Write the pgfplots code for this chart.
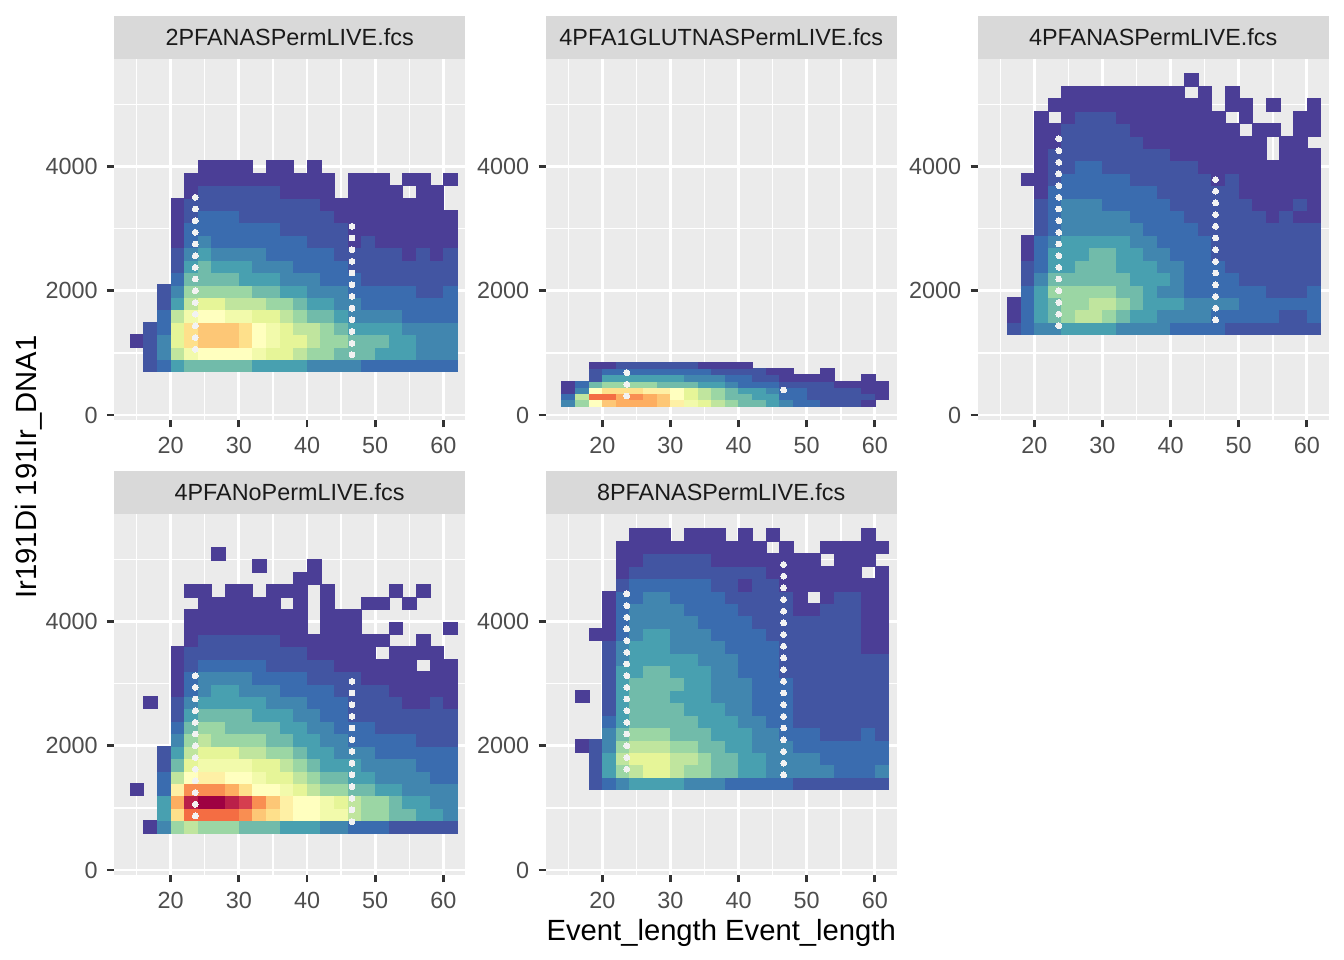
\documentclass[border=0pt]{standalone}
\usepackage{pgfplots}
\pgfplotsset{compat=1.18}
\usepackage{fontspec}
\setmainfont{Liberation Sans}
\definecolor{bg}{HTML}{EBEBEB}
\definecolor{stripc}{HTML}{D9D9D9}
\definecolor{tl}{HTML}{4D4D4D}
\definecolor{tk}{HTML}{333333}
\definecolor{st}{HTML}{1A1A1A}
\definecolor{hole}{HTML}{F2F2F2}
\tikzset{striptext/.style={font=\fontsize{8.8}{10}\selectfont, text=st}}
\pgfplotsset{
 panel/.style={
  scale only axis, width=131.5bp, height=135.3bp, anchor=south west,
  xmin=11.72, xmax=63.18, ymin=-81, ymax=5732,
  axis lines*=left, axis line style={draw=none},
  axis background/.style={fill=bg},
  xtick={20,30,40,50,60}, ytick={0,2000,4000},
  minor xtick={15,25,35,45,55}, minor ytick={1000,3000,5000},
  grid=both,
  major grid style={color=white, line width=1.07bp},
  minor grid style={color=white, line width=0.53bp},
  tick align=outside, major tick length=2.75bp, minor tick length=0pt,
  tick style={color=tk, line width=1.07bp},
  tick label style={font=\fontsize{8.8}{10}\selectfont, text=tl},
  /pgf/number format/assume math mode=true, /pgf/number format/1000 sep={},
  scaled ticks=false,
  colormap={spec}{rgb255=(75,62,150) rgb255=(58,108,175) rgb255=(72,160,176) rgb255=(155,214,164) rgb255=(230,245,152) rgb255=(255,255,191) rgb255=(254,224,139) rgb255=(253,174,97) rgb255=(244,109,67) rgb255=(213,62,79) rgb255=(158,1,66)},
  point meta min=0, point meta max=20,
 },
 cells/.style={scatter, only marks, mark=square*, point meta=explicit,
  scatter/use mapped color={draw=mapped color, fill=mapped color},
  mark size=2.56bp, mark options={yscale=#1, line width=0.1bp}},
 holes/.style={scatter=false, point meta=none, only marks, mark=*, color=hole, mark size=1.1bp, mark options={draw=hole, fill=hole, line width=0pt}},
}
\begin{document}
\begin{tikzpicture}
\path[use as bounding box] (0,0) rectangle (504bp,360bp);
% ---------------- panel 1
\begin{axis}[panel, name=p1, at={(42.86bp,202.5bp)}]
\addplot[cells=0.911] coordinates {
(17,800)[1] (19,800)[2] (21,800)[4] (23,800)[5] (25,800)[5] (27,800)[5] (29,800)[5] (31,800)[5] (33,800)[4] (35,800)[4] (37,800)[4] (39,800)[4] (41,800)[3] (43,800)[3] (45,800)[3] (47,800)[3] (49,800)[2] (51,800)[2] (53,800)[2] (55,800)[2] (57,800)[2] (59,800)[2] (61,800)[2]
(17,1000)[1] (19,1000)[3] (21,1000)[7] (23,1000)[9] (25,1000)[10] (27,1000)[10] (29,1000)[10] (31,1000)[10] (33,1000)[9] (35,1000)[8] (37,1000)[8] (39,1000)[7] (41,1000)[6] (43,1000)[6] (45,1000)[5] (47,1000)[5] (49,1000)[5] (51,1000)[4] (53,1000)[4] (55,1000)[4] (57,1000)[3] (59,1000)[3] (61,1000)[3]
(15,1200)[0] (17,1200)[1] (19,1200)[3] (21,1200)[8] (23,1200)[12] (25,1200)[13] (27,1200)[13] (29,1200)[13] (31,1200)[12] (33,1200)[10] (35,1200)[9] (37,1200)[8] (39,1200)[8] (41,1200)[7] (43,1200)[6] (45,1200)[6] (47,1200)[5] (49,1200)[5] (51,1200)[5] (53,1200)[4] (55,1200)[4] (57,1200)[3] (59,1200)[3] (61,1200)[3]
(17,1400)[1] (19,1400)[2] (21,1400)[8] (23,1400)[12] (25,1400)[13] (27,1400)[13] (29,1400)[13] (31,1400)[12] (33,1400)[10] (35,1400)[9] (37,1400)[8] (39,1400)[7] (41,1400)[7] (43,1400)[6] (45,1400)[5] (47,1400)[4] (49,1400)[4] (51,1400)[4] (53,1400)[4] (55,1400)[3] (57,1400)[3] (59,1400)[3] (61,1400)[3]
(19,1600)[2] (21,1600)[7] (23,1600)[9] (25,1600)[10] (27,1600)[10] (29,1600)[9] (31,1600)[9] (33,1600)[8] (35,1600)[8] (37,1600)[7] (39,1600)[6] (41,1600)[5] (43,1600)[5] (45,1600)[4] (47,1600)[3] (49,1600)[3] (51,1600)[3] (53,1600)[3] (55,1600)[2] (57,1600)[2] (59,1600)[2] (61,1600)[2]
(19,1800)[1] (21,1800)[4] (23,1800)[7] (25,1800)[8] (27,1800)[8] (29,1800)[7] (31,1800)[7] (33,1800)[7] (35,1800)[6] (37,1800)[6] (39,1800)[5] (41,1800)[4] (43,1800)[4] (45,1800)[3] (47,1800)[3] (49,1800)[2] (51,1800)[2] (53,1800)[2] (55,1800)[2] (57,1800)[2] (59,1800)[2] (61,1800)[2]
(19,2000)[1] (21,2000)[3] (23,2000)[6] (25,2000)[6] (27,2000)[6] (29,2000)[6] (31,2000)[6] (33,2000)[5] (35,2000)[5] (37,2000)[4] (39,2000)[4] (41,2000)[3] (43,2000)[3] (45,2000)[3] (47,2000)[2] (49,2000)[2] (51,2000)[2] (53,2000)[2] (55,2000)[2] (57,2000)[1] (59,2000)[1] (61,2000)[2]
(21,2200)[2] (23,2200)[5] (25,2200)[5] (27,2200)[5] (29,2200)[5] (31,2200)[4] (33,2200)[4] (35,2200)[4] (37,2200)[3] (39,2200)[3] (41,2200)[3] (43,2200)[2] (45,2200)[2] (47,2200)[2] (49,2200)[1] (51,2200)[1] (53,2200)[1] (55,2200)[1] (57,2200)[1] (59,2200)[1] (61,2200)[1]
(21,2400)[1] (23,2400)[4] (25,2400)[5] (27,2400)[4] (29,2400)[4] (31,2400)[4] (33,2400)[3] (35,2400)[3] (37,2400)[3] (39,2400)[2] (41,2400)[2] (43,2400)[2] (45,2400)[2] (47,2400)[1] (49,2400)[1] (51,2400)[1] (53,2400)[1] (55,2400)[1] (57,2400)[1] (59,2400)[1] (61,2400)[1]
(21,2600)[1] (23,2600)[3] (25,2600)[4] (27,2600)[3] (29,2600)[3] (31,2600)[3] (33,2600)[3] (35,2600)[2] (37,2600)[2] (39,2600)[2] (41,2600)[2] (43,2600)[2] (45,2600)[1] (47,2600)[1] (49,2600)[1] (51,2600)[1] (53,2600)[1] (55,2600)[0] (57,2600)[1] (59,2600)[0] (61,2600)[1]
(21,2800)[0] (23,2800)[2] (25,2800)[3] (27,2800)[2] (29,2800)[2] (31,2800)[2] (33,2800)[2] (35,2800)[2] (37,2800)[2] (39,2800)[2] (41,2800)[1] (43,2800)[1] (45,2800)[1] (47,2800)[0] (49,2800)[1] (51,2800)[0] (53,2800)[0] (55,2800)[0] (57,2800)[0] (59,2800)[0] (61,2800)[0]
(21,3000)[0] (23,3000)[2] (25,3000)[2] (27,3000)[2] (29,3000)[2] (31,3000)[2] (33,3000)[2] (35,3000)[2] (37,3000)[1] (39,3000)[1] (41,3000)[1] (43,3000)[1] (45,3000)[1] (47,3000)[0] (49,3000)[0] (51,3000)[0] (53,3000)[0] (55,3000)[0] (57,3000)[0] (59,3000)[0] (61,3000)[0]
(21,3200)[0] (23,3200)[1] (25,3200)[2] (27,3200)[2] (29,3200)[2] (31,3200)[1] (33,3200)[1] (35,3200)[1] (37,3200)[1] (39,3200)[1] (41,3200)[1] (43,3200)[1] (45,3200)[0] (47,3200)[0] (49,3200)[0] (51,3200)[0] (53,3200)[0] (55,3200)[0] (57,3200)[0] (59,3200)[0] (61,3200)[0]
(21,3400)[0] (23,3400)[1] (25,3400)[1] (27,3400)[1] (29,3400)[1] (31,3400)[1] (33,3400)[1] (35,3400)[1] (37,3400)[1] (39,3400)[1] (41,3400)[1] (43,3400)[0] (45,3400)[0] (47,3400)[0] (49,3400)[0] (51,3400)[0] (53,3400)[0] (55,3400)[0] (57,3400)[0] (59,3400)[0]
(23,3600)[0] (25,3600)[1] (27,3600)[1] (29,3600)[1] (31,3600)[1] (33,3600)[1] (35,3600)[1] (37,3600)[0] (39,3600)[0] (41,3600)[0] (43,3600)[0] (47,3600)[0] (49,3600)[0] (51,3600)[0] (53,3600)[0] (57,3600)[0] (59,3600)[0]
(23,3800)[0] (25,3800)[0] (27,3800)[0] (29,3800)[0] (31,3800)[0] (33,3800)[0] (35,3800)[0] (37,3800)[0] (39,3800)[0] (41,3800)[0] (43,3800)[0] (47,3800)[0] (49,3800)[0] (51,3800)[0] (55,3800)[0] (57,3800)[0] (61,3800)[0]
(25,4000)[0] (27,4000)[0] (29,4000)[0] (31,4000)[0] (35,4000)[0] (37,4000)[0] (41,4000)[0]
};
\addplot[holes] coordinates {
(23.6,1060) (23.6,1248) (23.6,1437) (23.6,1625) (23.6,1813) (23.6,2001) (23.6,2190) (23.6,2378) (23.6,2566) (23.6,2754) (23.6,2943) (23.6,3131) (23.6,3319) (23.6,3507)
(46.6,968) (46.6,1157) (46.6,1345) (46.6,1533) (46.6,1722) (46.6,1910) (46.6,2098) (46.6,2287) (46.6,2475) (46.6,2663) (46.6,2852) (46.6,3040)
};
\end{axis}
\fill[stripc] (p1.north west) rectangle ([yshift=16.24bp]p1.north east);
\node[striptext] at ([yshift=8.12bp]p1.north) {2PFANASPermLIVE.fcs};
% ---------------- panel 2
\begin{axis}[panel, name=p2, at={(204.7bp,202.5bp)}]
\addplot[cells=0.4555] coordinates {
(15,200)[3] (17,200)[6] (19,200)[10] (21,200)[13] (23,200)[14] (25,200)[14] (27,200)[14] (29,200)[13] (31,200)[11] (33,200)[9] (35,200)[8] (37,200)[7] (39,200)[6] (41,200)[5] (43,200)[5] (45,200)[4] (47,200)[3] (49,200)[2] (51,200)[2] (53,200)[1] (55,200)[1] (57,200)[1] (59,200)[0]
(15,300)[2] (17,300)[7] (19,300)[16] (21,300)[16] (23,300)[14] (25,300)[15] (27,300)[14] (29,300)[13] (31,300)[10] (33,300)[8] (35,300)[7] (37,300)[6] (39,300)[5] (41,300)[5] (43,300)[4] (45,300)[4] (47,300)[2] (49,300)[2] (51,300)[1] (53,300)[1] (55,300)[1] (57,300)[1] (59,300)[1] (61,300)[0]
(15,400)[0] (17,400)[3] (19,400)[10] (21,400)[12] (23,400)[12] (25,400)[12] (27,400)[11] (29,400)[11] (31,400)[10] (33,400)[8] (35,400)[7] (37,400)[6] (39,400)[5] (41,400)[4] (43,400)[4] (45,400)[3] (47,400)[2] (49,400)[2] (51,400)[1] (53,400)[1] (55,400)[1] (57,400)[1] (59,400)[0] (61,400)[0]
(15,500)[0] (17,500)[2] (19,500)[5] (21,500)[6] (23,500)[6] (25,500)[6] (27,500)[6] (29,500)[5] (31,500)[5] (33,500)[5] (35,500)[4] (37,500)[4] (39,500)[3] (41,500)[2] (43,500)[2] (45,500)[2] (47,500)[1] (49,500)[1] (51,500)[1] (53,500)[1] (55,500)[0] (57,500)[0] (59,500)[0] (61,500)[0]
(19,600)[1] (21,600)[4] (23,600)[4] (25,600)[4] (27,600)[4] (29,600)[4] (31,600)[4] (33,600)[3] (35,600)[3] (37,600)[3] (39,600)[2] (41,600)[2] (43,600)[1] (45,600)[1] (47,600)[0] (49,600)[0] (51,600)[0] (53,600)[0] (59,600)[0]
(19,700)[1] (21,700)[2] (23,700)[2] (25,700)[2] (27,700)[2] (29,700)[2] (31,700)[2] (33,700)[2] (35,700)[2] (37,700)[1] (39,700)[1] (41,700)[1] (43,700)[1] (45,700)[0] (47,700)[0] (53,700)[0]
(19,800)[0] (21,800)[0] (23,800)[1] (25,800)[1] (27,800)[1] (29,800)[1] (31,800)[1] (33,800)[1] (35,800)[0] (37,800)[0] (39,800)[0] (41,800)[0]
};
\addplot[holes] coordinates {(23.6,306) (23.6,495) (23.6,683) (46.6,403)};
\end{axis}
\fill[stripc] (p2.north west) rectangle ([yshift=16.24bp]p2.north east);
\node[striptext] at ([yshift=8.12bp]p2.north) {4PFA1GLUTNASPermLIVE.fcs};
% ---------------- panel 3
\begin{axis}[panel, name=p3, at={(366.7bp,202.5bp)}]
\addplot[cells=0.911] coordinates {
(17,1400)[1] (19,1400)[2] (21,1400)[3] (23,1400)[3] (25,1400)[4] (27,1400)[4] (29,1400)[4] (31,1400)[4] (33,1400)[3] (35,1400)[3] (37,1400)[3] (39,1400)[3] (41,1400)[2] (43,1400)[2] (45,1400)[2] (47,1400)[2] (49,1400)[1] (51,1400)[1] (53,1400)[1] (55,1400)[1] (57,1400)[1] (59,1400)[1] (61,1400)[1]
(17,1600)[0] (19,1600)[2] (21,1600)[4] (23,1600)[5] (25,1600)[6] (27,1600)[7] (29,1600)[7] (31,1600)[6] (33,1600)[5] (35,1600)[4] (37,1600)[4] (39,1600)[3] (41,1600)[3] (43,1600)[3] (45,1600)[3] (47,1600)[2] (49,1600)[2] (51,1600)[2] (53,1600)[2] (55,1600)[2] (57,1600)[1] (59,1600)[1] (61,1600)[2]
(17,1800)[0] (19,1800)[2] (21,1800)[4] (23,1800)[5] (25,1800)[6] (27,1800)[6] (29,1800)[7] (31,1800)[7] (33,1800)[6] (35,1800)[5] (37,1800)[4] (39,1800)[4] (41,1800)[4] (43,1800)[3] (45,1800)[3] (47,1800)[3] (49,1800)[3] (51,1800)[2] (53,1800)[2] (55,1800)[2] (57,1800)[2] (59,1800)[2] (61,1800)[2]
(19,2000)[2] (21,2000)[4] (23,2000)[6] (25,2000)[6] (27,2000)[6] (29,2000)[6] (31,2000)[6] (33,2000)[5] (35,2000)[5] (37,2000)[4] (39,2000)[3] (41,2000)[3] (43,2000)[2] (45,2000)[2] (47,2000)[2] (49,2000)[2] (51,2000)[2] (53,2000)[2] (55,2000)[1] (57,2000)[1] (59,2000)[1] (61,2000)[2]
(19,2200)[1] (21,2200)[3] (23,2200)[5] (25,2200)[5] (27,2200)[5] (29,2200)[5] (31,2200)[5] (33,2200)[5] (35,2200)[4] (37,2200)[4] (39,2200)[4] (41,2200)[3] (43,2200)[2] (45,2200)[2] (47,2200)[2] (49,2200)[2] (51,2200)[1] (53,2200)[1] (55,2200)[1] (57,2200)[1] (59,2200)[1] (61,2200)[1]
(19,2400)[1] (21,2400)[2] (23,2400)[4] (25,2400)[4] (27,2400)[5] (29,2400)[5] (31,2400)[5] (33,2400)[4] (35,2400)[4] (37,2400)[4] (39,2400)[3] (41,2400)[3] (43,2400)[2] (45,2400)[2] (47,2400)[2] (49,2400)[1] (51,2400)[1] (53,2400)[1] (55,2400)[1] (57,2400)[1] (59,2400)[1] (61,2400)[1]
(19,2600)[0] (21,2600)[2] (23,2600)[4] (25,2600)[4] (27,2600)[4] (29,2600)[5] (31,2600)[5] (33,2600)[4] (35,2600)[4] (37,2600)[3] (39,2600)[3] (41,2600)[2] (43,2600)[2] (45,2600)[2] (47,2600)[1] (49,2600)[1] (51,2600)[1] (53,2600)[1] (55,2600)[1] (57,2600)[1] (59,2600)[1] (61,2600)[1]
(19,2800)[0] (21,2800)[2] (23,2800)[3] (25,2800)[4] (27,2800)[4] (29,2800)[4] (31,2800)[4] (33,2800)[4] (35,2800)[3] (37,2800)[3] (39,2800)[2] (41,2800)[2] (43,2800)[2] (45,2800)[2] (47,2800)[1] (49,2800)[1] (51,2800)[1] (53,2800)[1] (55,2800)[1] (57,2800)[1] (59,2800)[1] (61,2800)[1]
(21,3000)[1] (23,3000)[2] (25,3000)[3] (27,3000)[3] (29,3000)[3] (31,3000)[3] (33,3000)[3] (35,3000)[3] (37,3000)[2] (39,3000)[2] (41,3000)[2] (43,3000)[2] (45,3000)[1] (47,3000)[1] (49,3000)[1] (51,3000)[1] (53,3000)[1] (55,3000)[1] (57,3000)[1] (59,3000)[1] (61,3000)[1]
(21,3200)[1] (23,3200)[2] (25,3200)[3] (27,3200)[3] (29,3200)[3] (31,3200)[3] (33,3200)[3] (35,3200)[2] (37,3200)[2] (39,3200)[2] (41,3200)[2] (43,3200)[1] (45,3200)[1] (47,3200)[1] (49,3200)[1] (51,3200)[1] (53,3200)[1] (55,3200)[0] (57,3200)[1] (59,3200)[0] (61,3200)[0]
(21,3400)[1] (23,3400)[2] (25,3400)[3] (27,3400)[3] (29,3400)[3] (31,3400)[2] (33,3400)[2] (35,3400)[2] (37,3400)[2] (39,3400)[2] (41,3400)[1] (43,3400)[1] (45,3400)[1] (47,3400)[1] (49,3400)[1] (51,3400)[1] (53,3400)[0] (55,3400)[0] (57,3400)[0] (59,3400)[1] (61,3400)[0]
(21,3600)[0] (23,3600)[2] (25,3600)[2] (27,3600)[2] (29,3600)[2] (31,3600)[2] (33,3600)[2] (35,3600)[2] (37,3600)[2] (39,3600)[1] (41,3600)[1] (43,3600)[1] (45,3600)[1] (47,3600)[1] (49,3600)[1] (51,3600)[0] (53,3600)[0] (55,3600)[0] (57,3600)[0] (59,3600)[0] (61,3600)[0]
(19,3800)[0] (21,3800)[0] (23,3800)[1] (25,3800)[2] (27,3800)[2] (29,3800)[2] (31,3800)[2] (33,3800)[2] (35,3800)[1] (37,3800)[1] (39,3800)[1] (41,3800)[1] (43,3800)[1] (45,3800)[1] (47,3800)[0] (49,3800)[1] (51,3800)[0] (53,3800)[0] (55,3800)[0] (57,3800)[0] (59,3800)[0] (61,3800)[0]
(21,4000)[0] (23,4000)[1] (25,4000)[1] (27,4000)[2] (29,4000)[2] (31,4000)[1] (33,4000)[1] (35,4000)[1] (37,4000)[1] (39,4000)[1] (41,4000)[1] (43,4000)[1] (45,4000)[0] (47,4000)[0] (49,4000)[0] (51,4000)[0] (53,4000)[0] (55,4000)[0] (57,4000)[0] (59,4000)[0] (61,4000)[0]
(21,4200)[0] (23,4200)[1] (25,4200)[1] (27,4200)[1] (29,4200)[1] (31,4200)[1] (33,4200)[1] (35,4200)[1] (37,4200)[1] (39,4200)[1] (41,4200)[0] (43,4200)[0] (45,4200)[0] (47,4200)[0] (49,4200)[0] (51,4200)[0] (53,4200)[0] (57,4200)[0] (59,4200)[0] (61,4200)[0]
(21,4400)[0] (23,4400)[0] (25,4400)[1] (27,4400)[1] (29,4400)[1] (31,4400)[1] (33,4400)[1] (35,4400)[1] (37,4400)[0] (39,4400)[0] (41,4400)[0] (43,4400)[0] (45,4400)[0] (47,4400)[0] (49,4400)[0] (51,4400)[0] (53,4400)[0] (57,4400)[0] (59,4400)[0]
(21,4600)[0] (23,4600)[0] (25,4600)[1] (27,4600)[1] (29,4600)[1] (31,4600)[1] (33,4600)[1] (35,4600)[0] (37,4600)[0] (39,4600)[0] (41,4600)[0] (43,4600)[0] (45,4600)[0] (47,4600)[0] (49,4600)[0] (53,4600)[0] (55,4600)[0] (59,4600)[0] (61,4600)[0]
(21,4800)[0] (25,4800)[0] (27,4800)[1] (29,4800)[1] (31,4800)[1] (33,4800)[0] (35,4800)[0] (37,4800)[0] (39,4800)[0] (41,4800)[0] (43,4800)[0] (45,4800)[0] (47,4800)[0] (51,4800)[0] (59,4800)[0] (61,4800)[0]
(23,5000)[0] (25,5000)[0] (27,5000)[0] (29,5000)[0] (31,5000)[0] (33,5000)[0] (35,5000)[0] (37,5000)[0] (39,5000)[0] (41,5000)[0] (43,5000)[0] (45,5000)[0] (49,5000)[0] (51,5000)[0] (55,5000)[0] (61,5000)[0]
(25,5200)[0] (27,5200)[0] (29,5200)[0] (31,5200)[0] (33,5200)[0] (35,5200)[0] (37,5200)[0] (39,5200)[0] (41,5200)[0] (45,5200)[0] (49,5200)[0]
(43,5400)[0]
};
\addplot[holes] coordinates {
(23.6,1437) (23.6,1625) (23.6,1813) (23.6,2001) (23.6,2190) (23.6,2378) (23.6,2566) (23.6,2754) (23.6,2943) (23.6,3131) (23.6,3319) (23.6,3507) (23.6,3696) (23.6,3884) (23.6,4072) (23.6,4260) (23.6,4449)
(46.6,1533) (46.6,1722) (46.6,1910) (46.6,2098) (46.6,2287) (46.6,2475) (46.6,2663) (46.6,2852) (46.6,3040) (46.6,3228) (46.6,3417) (46.6,3605) (46.6,3793)
};
\end{axis}
\fill[stripc] (p3.north west) rectangle ([yshift=16.24bp]p3.north east);
\node[striptext] at ([yshift=8.12bp]p3.north) {4PFANASPermLIVE.fcs};
% ---------------- panel 4
\begin{axis}[panel, name=p4, at={(42.86bp,31.875bp)}]
\addplot[cells=0.911] coordinates {
(17,700)[0] (19,700)[3] (21,700)[6] (23,700)[7] (25,700)[6] (27,700)[6] (29,700)[6] (31,700)[5] (33,700)[5] (35,700)[5] (37,700)[4] (39,700)[4] (41,700)[4] (43,700)[3] (45,700)[3] (47,700)[2] (49,700)[2] (51,700)[2] (53,700)[1] (55,700)[1] (57,700)[1] (59,700)[1] (61,700)[1]
(19,900)[4] (21,900)[12] (23,900)[16] (25,900)[16] (27,900)[16] (29,900)[16] (31,900)[15] (33,900)[13] (35,900)[12] (37,900)[11] (39,900)[10] (41,900)[10] (43,900)[9] (45,900)[9] (47,900)[7] (49,900)[6] (51,900)[6] (53,900)[5] (55,900)[5] (57,900)[4] (59,900)[4] (61,900)[3]
(19,1100)[4] (21,1100)[14] (23,1100)[19] (25,1100)[20] (27,1100)[20] (29,1100)[19] (31,1100)[18] (33,1100)[15] (35,1100)[13] (37,1100)[11] (39,1100)[10] (41,1100)[10] (43,1100)[9] (45,1100)[8] (47,1100)[7] (49,1100)[6] (51,1100)[6] (53,1100)[5] (55,1100)[4] (57,1100)[4] (59,1100)[3] (61,1100)[3]
(15,1300)[0] (19,1300)[2] (21,1300)[11] (23,1300)[15] (25,1300)[15] (27,1300)[15] (29,1300)[14] (31,1300)[12] (33,1300)[10] (35,1300)[10] (37,1300)[9] (39,1300)[8] (41,1300)[7] (43,1300)[6] (45,1300)[6] (47,1300)[5] (49,1300)[5] (51,1300)[4] (53,1300)[4] (55,1300)[3] (57,1300)[3] (59,1300)[3] (61,1300)[3]
(19,1500)[2] (21,1500)[7] (23,1500)[10] (25,1500)[11] (27,1500)[11] (29,1500)[10] (31,1500)[10] (33,1500)[9] (35,1500)[8] (37,1500)[8] (39,1500)[7] (41,1500)[6] (43,1500)[5] (45,1500)[5] (47,1500)[4] (49,1500)[4] (51,1500)[3] (53,1500)[3] (55,1500)[3] (57,1500)[3] (59,1500)[2] (61,1500)[2]
(19,1700)[1] (21,1700)[5] (23,1700)[8] (25,1700)[9] (27,1700)[9] (29,1700)[9] (31,1700)[9] (33,1700)[8] (35,1700)[8] (37,1700)[7] (39,1700)[6] (41,1700)[5] (43,1700)[4] (45,1700)[4] (47,1700)[4] (49,1700)[3] (51,1700)[3] (53,1700)[3] (55,1700)[3] (57,1700)[2] (59,1700)[2] (61,1700)[2]
(19,1900)[1] (21,1900)[4] (23,1900)[7] (25,1900)[8] (27,1900)[8] (29,1900)[8] (31,1900)[7] (33,1900)[7] (35,1900)[6] (37,1900)[6] (39,1900)[5] (41,1900)[4] (43,1900)[4] (45,1900)[3] (47,1900)[3] (49,1900)[3] (51,1900)[2] (53,1900)[2] (55,1900)[2] (57,1900)[2] (59,1900)[2] (61,1900)[2]
(21,2100)[3] (23,2100)[6] (25,2100)[7] (27,2100)[6] (29,2100)[6] (31,2100)[6] (33,2100)[6] (35,2100)[5] (37,2100)[5] (39,2100)[4] (41,2100)[4] (43,2100)[3] (45,2100)[3] (47,2100)[2] (49,2100)[2] (51,2100)[2] (53,2100)[2] (55,2100)[2] (57,2100)[1] (59,2100)[1] (61,2100)[1]
(21,2300)[2] (23,2300)[5] (25,2300)[6] (27,2300)[6] (29,2300)[5] (31,2300)[5] (33,2300)[5] (35,2300)[5] (37,2300)[4] (39,2300)[4] (41,2300)[3] (43,2300)[3] (45,2300)[2] (47,2300)[2] (49,2300)[2] (51,2300)[1] (53,2300)[1] (55,2300)[1] (57,2300)[1] (59,2300)[1] (61,2300)[1]
(21,2500)[1] (23,2500)[4] (25,2500)[5] (27,2500)[5] (29,2500)[5] (31,2500)[5] (33,2500)[4] (35,2500)[4] (37,2500)[4] (39,2500)[3] (41,2500)[3] (43,2500)[2] (45,2500)[2] (47,2500)[1] (49,2500)[1] (51,2500)[1] (53,2500)[1] (55,2500)[1] (57,2500)[1] (59,2500)[1] (61,2500)[1]
(17,2700)[0] (21,2700)[1] (23,2700)[3] (25,2700)[4] (27,2700)[4] (29,2700)[4] (31,2700)[4] (33,2700)[4] (35,2700)[3] (37,2700)[3] (39,2700)[3] (41,2700)[2] (43,2700)[2] (45,2700)[2] (47,2700)[1] (49,2700)[1] (51,2700)[1] (53,2700)[1] (55,2700)[0] (57,2700)[0] (59,2700)[1] (61,2700)[0]
(21,2900)[0] (23,2900)[2] (25,2900)[3] (27,2900)[4] (29,2900)[4] (31,2900)[3] (33,2900)[3] (35,2900)[3] (37,2900)[2] (39,2900)[2] (41,2900)[2] (43,2900)[2] (45,2900)[1] (47,2900)[1] (49,2900)[1] (51,2900)[1] (53,2900)[0] (55,2900)[0] (57,2900)[0] (59,2900)[0] (61,2900)[0]
(21,3100)[0] (23,3100)[2] (25,3100)[3] (27,3100)[3] (29,3100)[3] (31,3100)[3] (33,3100)[2] (35,3100)[2] (37,3100)[2] (39,3100)[2] (41,3100)[1] (43,3100)[1] (45,3100)[1] (47,3100)[1] (49,3100)[0] (51,3100)[0] (53,3100)[0] (55,3100)[0] (57,3100)[0] (59,3100)[0] (61,3100)[0]
(21,3300)[0] (23,3300)[1] (25,3300)[2] (27,3300)[2] (29,3300)[2] (31,3300)[2] (33,3300)[2] (35,3300)[1] (37,3300)[1] (39,3300)[1] (41,3300)[1] (43,3300)[1] (45,3300)[0] (47,3300)[0] (49,3300)[0] (51,3300)[0] (53,3300)[0] (55,3300)[0] (59,3300)[0] (61,3300)[0]
(21,3500)[0] (23,3500)[1] (25,3500)[1] (27,3500)[1] (29,3500)[1] (31,3500)[1] (33,3500)[1] (35,3500)[1] (37,3500)[1] (39,3500)[1] (41,3500)[0] (43,3500)[0] (45,3500)[0] (47,3500)[0] (49,3500)[0] (53,3500)[0] (55,3500)[0] (57,3500)[0] (59,3500)[0]
(23,3700)[0] (25,3700)[1] (27,3700)[1] (29,3700)[1] (31,3700)[1] (33,3700)[1] (35,3700)[1] (37,3700)[0] (39,3700)[0] (41,3700)[0] (43,3700)[0] (45,3700)[0] (47,3700)[0] (49,3700)[0] (51,3700)[0] (57,3700)[0]
(23,3900)[0] (25,3900)[0] (27,3900)[0] (29,3900)[0] (31,3900)[0] (33,3900)[0] (35,3900)[0] (37,3900)[0] (39,3900)[0] (43,3900)[0] (45,3900)[0] (47,3900)[0] (53,3900)[0] (61,3900)[0]
(23,4100)[0] (25,4100)[0] (27,4100)[0] (29,4100)[0] (31,4100)[0] (33,4100)[0] (35,4100)[0] (37,4100)[0] (39,4100)[0] (43,4100)[0] (45,4100)[0] (47,4100)[0]
(25,4300)[0] (27,4300)[0] (29,4300)[0] (31,4300)[0] (33,4300)[0] (35,4300)[0] (39,4300)[0] (43,4300)[0] (49,4300)[0] (51,4300)[0] (55,4300)[0]
(23,4500)[0] (25,4500)[0] (29,4500)[0] (31,4500)[0] (35,4500)[0] (37,4500)[0] (39,4500)[0] (43,4500)[0] (53,4500)[0] (57,4500)[0]
(39,4700)[0] (41,4700)[0] (33,4900)[0] (41,4900)[0] (27,5100)[0]
};
\addplot[holes] coordinates {
(23.6,871) (23.6,1060) (23.6,1248) (23.6,1437) (23.6,1625) (23.6,1813) (23.6,2001) (23.6,2190) (23.6,2378) (23.6,2566) (23.6,2754) (23.6,2943) (23.6,3131)
(46.6,780) (46.6,968) (46.6,1157) (46.6,1345) (46.6,1533) (46.6,1722) (46.6,1910) (46.6,2098) (46.6,2287) (46.6,2475) (46.6,2663) (46.6,2852) (46.6,3040)
};
\end{axis}
\fill[stripc] (p4.north west) rectangle ([yshift=16.24bp]p4.north east);
\node[striptext] at ([yshift=8.12bp]p4.north) {4PFANoPermLIVE.fcs};
% ---------------- panel 5
\begin{axis}[panel, name=p5, at={(204.7bp,31.875bp)}]
\addplot[cells=0.911] coordinates {
(19,1400)[1] (21,1400)[2] (23,1400)[3] (25,1400)[4] (27,1400)[4] (29,1400)[4] (31,1400)[4] (33,1400)[3] (35,1400)[3] (37,1400)[3] (39,1400)[2] (41,1400)[2] (43,1400)[2] (45,1400)[2] (47,1400)[2] (49,1400)[1] (51,1400)[1] (53,1400)[1] (55,1400)[1] (57,1400)[1] (59,1400)[1] (61,1400)[1]
(19,1600)[1] (21,1600)[4] (23,1600)[6] (25,1600)[7] (27,1600)[8] (29,1600)[8] (31,1600)[7] (33,1600)[6] (35,1600)[6] (37,1600)[5] (39,1600)[5] (41,1600)[4] (43,1600)[4] (45,1600)[3] (47,1600)[3] (49,1600)[3] (51,1600)[3] (53,1600)[3] (55,1600)[2] (57,1600)[2] (59,1600)[2] (61,1600)[3]
(19,1800)[1] (21,1800)[4] (23,1800)[7] (25,1800)[8] (27,1800)[8] (29,1800)[8] (31,1800)[7] (33,1800)[7] (35,1800)[6] (37,1800)[5] (39,1800)[5] (41,1800)[4] (43,1800)[4] (45,1800)[3] (47,1800)[3] (49,1800)[3] (51,1800)[3] (53,1800)[2] (55,1800)[2] (57,1800)[2] (59,1800)[2] (61,1800)[2]
(17,2000)[0] (19,2000)[1] (21,2000)[3] (23,2000)[6] (25,2000)[7] (27,2000)[7] (29,2000)[7] (31,2000)[6] (33,2000)[6] (35,2000)[5] (37,2000)[5] (39,2000)[4] (41,2000)[4] (43,2000)[3] (45,2000)[3] (47,2000)[3] (49,2000)[2] (51,2000)[2] (53,2000)[2] (55,2000)[2] (57,2000)[2] (59,2000)[2] (61,2000)[2]
(21,2200)[3] (23,2200)[5] (25,2200)[6] (27,2200)[6] (29,2200)[6] (31,2200)[5] (33,2200)[5] (35,2200)[5] (37,2200)[4] (39,2200)[4] (41,2200)[4] (43,2200)[3] (45,2200)[3] (47,2200)[2] (49,2200)[2] (51,2200)[2] (53,2200)[1] (55,2200)[1] (57,2200)[1] (59,2200)[2] (61,2200)[1]
(21,2400)[2] (23,2400)[4] (25,2400)[5] (27,2400)[5] (29,2400)[5] (31,2400)[5] (33,2400)[5] (35,2400)[4] (37,2400)[4] (39,2400)[4] (41,2400)[3] (43,2400)[3] (45,2400)[2] (47,2400)[2] (49,2400)[1] (51,2400)[1] (53,2400)[1] (55,2400)[1] (57,2400)[1] (59,2400)[1] (61,2400)[1]
(21,2600)[1] (23,2600)[4] (25,2600)[5] (27,2600)[5] (29,2600)[5] (31,2600)[5] (33,2600)[4] (35,2600)[4] (37,2600)[4] (39,2600)[3] (41,2600)[3] (43,2600)[2] (45,2600)[2] (47,2600)[2] (49,2600)[1] (51,2600)[1] (53,2600)[1] (55,2600)[1] (57,2600)[1] (59,2600)[1] (61,2600)[1]
(17,2800)[0] (21,2800)[1] (23,2800)[4] (25,2800)[5] (27,2800)[5] (29,2800)[5] (31,2800)[4] (33,2800)[4] (35,2800)[4] (37,2800)[3] (39,2800)[3] (41,2800)[3] (43,2800)[2] (45,2800)[2] (47,2800)[2] (49,2800)[1] (51,2800)[1] (53,2800)[1] (55,2800)[1] (57,2800)[1] (59,2800)[1] (61,2800)[1]
(21,3000)[1] (23,3000)[4] (25,3000)[5] (27,3000)[5] (29,3000)[5] (31,3000)[5] (33,3000)[4] (35,3000)[4] (37,3000)[3] (39,3000)[3] (41,3000)[3] (43,3000)[2] (45,3000)[2] (47,3000)[2] (49,3000)[1] (51,3000)[1] (53,3000)[1] (55,3000)[1] (57,3000)[1] (59,3000)[1] (61,3000)[1]
(21,3200)[1] (23,3200)[4] (25,3200)[4] (27,3200)[5] (29,3200)[5] (31,3200)[4] (33,3200)[4] (35,3200)[4] (37,3200)[3] (39,3200)[3] (41,3200)[2] (43,3200)[2] (45,3200)[2] (47,3200)[1] (49,3200)[1] (51,3200)[1] (53,3200)[1] (55,3200)[1] (57,3200)[1] (59,3200)[1] (61,3200)[1]
(21,3400)[1] (23,3400)[3] (25,3400)[4] (27,3400)[4] (29,3400)[4] (31,3400)[4] (33,3400)[4] (35,3400)[3] (37,3400)[3] (39,3400)[3] (41,3400)[2] (43,3400)[2] (45,3400)[2] (47,3400)[1] (49,3400)[1] (51,3400)[1] (53,3400)[1] (55,3400)[1] (57,3400)[1] (59,3400)[1] (61,3400)[1]
(21,3600)[1] (23,3600)[3] (25,3600)[4] (27,3600)[4] (29,3600)[4] (31,3600)[3] (33,3600)[3] (35,3600)[3] (37,3600)[3] (39,3600)[2] (41,3600)[2] (43,3600)[2] (45,3600)[2] (47,3600)[1] (49,3600)[1] (51,3600)[1] (53,3600)[1] (55,3600)[1] (57,3600)[1] (59,3600)[0] (61,3600)[0]
(19,3800)[0] (21,3800)[0] (23,3800)[2] (25,3800)[3] (27,3800)[4] (29,3800)[4] (31,3800)[3] (33,3800)[3] (35,3800)[3] (37,3800)[2] (39,3800)[2] (41,3800)[2] (43,3800)[2] (45,3800)[1] (47,3800)[1] (49,3800)[1] (51,3800)[1] (53,3800)[1] (55,3800)[1] (57,3800)[1] (59,3800)[0] (61,3800)[0]
(21,4000)[0] (23,4000)[2] (25,4000)[3] (27,4000)[3] (29,4000)[3] (31,4000)[3] (33,4000)[3] (35,4000)[2] (37,4000)[2] (39,4000)[2] (41,4000)[2] (43,4000)[1] (45,4000)[1] (47,4000)[1] (49,4000)[1] (51,4000)[1] (53,4000)[1] (55,4000)[1] (57,4000)[1] (59,4000)[0] (61,4000)[0]
(21,4200)[0] (23,4200)[2] (25,4200)[3] (27,4200)[3] (29,4200)[3] (31,4200)[3] (33,4200)[2] (35,4200)[2] (37,4200)[2] (39,4200)[2] (41,4200)[1] (43,4200)[1] (45,4200)[1] (47,4200)[1] (49,4200)[0] (51,4200)[0] (53,4200)[1] (55,4200)[1] (57,4200)[1] (59,4200)[0] (61,4200)[0]
(21,4400)[0] (23,4400)[2] (25,4400)[2] (27,4400)[3] (29,4400)[3] (31,4400)[2] (33,4400)[2] (35,4400)[2] (37,4400)[2] (39,4400)[1] (41,4400)[1] (43,4400)[1] (45,4400)[1] (47,4400)[1] (49,4400)[0] (53,4400)[0] (55,4400)[1] (57,4400)[1] (59,4400)[0] (61,4400)[0]
(23,4600)[1] (25,4600)[2] (27,4600)[2] (29,4600)[2] (31,4600)[2] (33,4600)[2] (35,4600)[2] (37,4600)[1] (39,4600)[1] (41,4600)[0] (43,4600)[1] (45,4600)[1] (47,4600)[0] (49,4600)[0] (51,4600)[0] (53,4600)[0] (55,4600)[0] (57,4600)[0] (59,4600)[0] (61,4600)[0]
(23,4800)[0] (25,4800)[1] (27,4800)[1] (29,4800)[1] (31,4800)[1] (33,4800)[1] (35,4800)[1] (37,4800)[1] (39,4800)[1] (41,4800)[1] (43,4800)[1] (45,4800)[0] (47,4800)[0] (49,4800)[0] (51,4800)[0] (53,4800)[0] (55,4800)[0] (57,4800)[0] (61,4800)[0]
(23,5000)[0] (25,5000)[0] (27,5000)[1] (29,5000)[1] (31,5000)[1] (33,5000)[1] (35,5000)[1] (37,5000)[0] (39,5000)[0] (41,5000)[0] (43,5000)[0] (45,5000)[0] (47,5000)[0] (49,5000)[0] (51,5000)[0] (55,5000)[0] (57,5000)[0] (59,5000)[0]
(23,5200)[0] (25,5200)[0] (27,5200)[0] (29,5200)[0] (31,5200)[0] (33,5200)[0] (35,5200)[0] (37,5200)[0] (39,5200)[0] (41,5200)[0] (43,5200)[0] (47,5200)[0] (53,5200)[0] (55,5200)[0] (57,5200)[0] (59,5200)[0] (61,5200)[0]
(25,5400)[0] (27,5400)[0] (29,5400)[0] (33,5400)[0] (35,5400)[0] (37,5400)[0] (41,5400)[0] (45,5400)[0] (59,5400)[0]
};
\addplot[holes] coordinates {
(23.6,1625) (23.6,1813) (23.6,2001) (23.6,2190) (23.6,2378) (23.6,2566) (23.6,2754) (23.6,2943) (23.6,3131) (23.6,3319) (23.6,3507) (23.6,3696) (23.6,3884) (23.6,4072) (23.6,4260) (23.6,4449)
(46.6,1533) (46.6,1722) (46.6,1910) (46.6,2098) (46.6,2287) (46.6,2475) (46.6,2663) (46.6,2852) (46.6,3040) (46.6,3228) (46.6,3417) (46.6,3605) (46.6,3793) (46.6,3982) (46.6,4170) (46.6,4358) (46.6,4547) (46.6,4735) (46.6,4923)
};
\end{axis}
\fill[stripc] (p5.north west) rectangle ([yshift=16.24bp]p5.north east);
\node[striptext] at ([yshift=8.12bp]p5.north) {8PFANASPermLIVE.fcs};
% ---------------- axis titles
\node[font=\fontsize{11}{13}\selectfont, text=black, anchor=base] at (270.45bp,7.5bp) {Event\_length Event\_length};
\node[font=\fontsize{11}{13}\selectfont, text=black, anchor=base, rotate=90] at (13.5bp,184.9bp) {Ir191Di 191Ir\_DNA1};
\end{tikzpicture}
\end{document}
